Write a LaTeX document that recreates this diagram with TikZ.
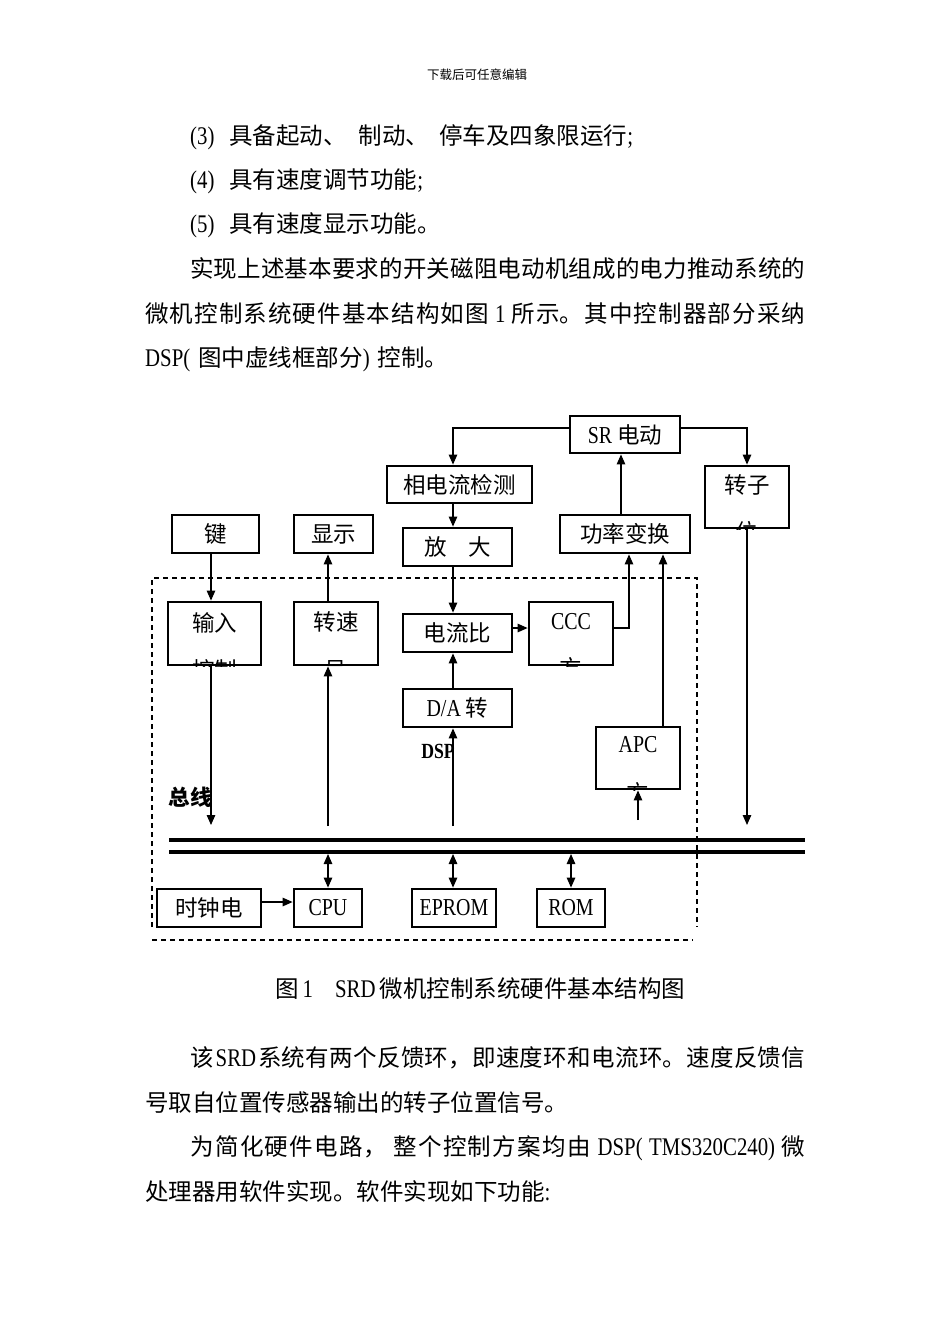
\documentclass[tikz,border=0pt]{standalone}
\usepackage{fontspec}
\setmainfont{Noto Sans CJK SC}
\newfontfamily\latfont[FakeStretch=0.82,Scale=1.08]{Liberation Serif}
\newcommand\lat[1]{{\latfont #1}}
\usetikzlibrary{arrows.meta}
\XeTeXlinebreaklocale "zh"
\XeTeXlinebreakskip=0pt plus 3pt minus 0.5pt
\newcommand\jline[2]{\parbox{#1}{\parfillskip=0pt\noindent #2}}
\begin{document}
\begin{tikzpicture}[x=1pt,y=-1pt,
  box/.style={draw, line width=2.8pt, inner sep=0pt, font=\fontsize{22.5}{26}\selectfont},
  lbl/.style={inner sep=0pt, font=\fontsize{22.5}{26}\selectfont},
  body/.style={inner sep=0pt, font=\fontsize{23.5}{27}\selectfont},
  conn/.style={line width=1.2pt, -{Triangle[length=10pt,width=8.5pt]}},
  biconn/.style={line width=1.2pt, {Triangle[length=10pt,width=8.5pt]}-{Triangle[length=10pt,width=8.5pt]}},
  dsh/.style={line width=1.2pt, dash pattern=on 5pt off 4pt},
  busline/.style={line width=4pt}]
\useasboundingbox[fill=white] (0,0) rectangle (950,1344);

% ---------- page text ----------
\node[inner sep=0pt, font=\fontsize{12.5}{14}\selectfont] (hdr) at (477,75) {下载后可任意编辑};
\node[body, anchor=west] (t1) at (190,137) {\lat{(3)}\hspace{15pt}具备起动、\hspace{12pt}制动、\hspace{10pt}停车及四象限运行\lat{;}};
\node[body, anchor=west] (t2) at (190,181) {\lat{(4)}\hspace{15pt}具有速度调节功能\lat{;}};
\node[body, anchor=west] (t3) at (190,225) {\lat{(5)}\hspace{15pt}具有速度显示功能。};
\node[body, anchor=west] (t4) at (190,269) {\jline{615pt}{实现上述基本要求的开关磁阻电动机组成的电力推动系统的}};
\node[body, anchor=west] (t5) at (145,314) {\jline{660pt}{微机控制系统硬件基本结构如图 \lat{1} 所示。其中控制器部分采纳}};
\node[body, anchor=west] (t6) at (145,359) {\lat{DSP(}\hspace{8pt}图中虚线框部分\lat{)}\hspace{8pt}控制。};
\node[body, anchor=west] (cap) at (275,989) {图\hspace{4pt}\lat{1}\hspace{22pt}\lat{SRD}\hspace{4pt}微机控制系统硬件基本结构图};
\node[body, anchor=west] (t7) at (190,1058) {\jline{615pt}{该\hspace{2pt}\lat{SRD}\hspace{2pt}系统有两个反馈环，即速度环和电流环。速度反馈信}};
\node[body, anchor=west] (t8) at (145,1103) {号取自位置传感器输出的转子位置信号。};
\node[body, anchor=west] (t9) at (190,1148) {\jline{615pt}{为简化硬件电路， 整个控制方案均由 \lat{DSP( TMS320C240)} 微}};
\node[body, anchor=west] (t10) at (145,1192) {处理器用软件实现。软件实现如下功能\lat{:}};

% ---------- single-line boxes ----------
\node[box, minimum width=110pt, minimum height=37pt] (sr) at (625,434.5) {\lat{SR} 电动};
\node[box, minimum width=145pt, minimum height=37pt] (pd) at (459.5,484.5) {相电流检测};
\node[box, minimum width=87pt, minimum height=38pt] (key) at (215.5,534) {键};
\node[box, minimum width=79pt, minimum height=38pt] (disp) at (333.5,534) {显示};
\node[box, minimum width=109pt, minimum height=38pt] (amp) at (457.5,547) {放\hspace{22pt}大};
\node[box, minimum width=130pt, minimum height=38pt] (pw) at (625,534) {功率变换};
\node[box, minimum width=109pt, minimum height=38pt] (cmp) at (457.5,633) {电流比};
\node[box, minimum width=109pt, minimum height=38pt] (da) at (457.5,708) {\lat{D/A} 转};
\node[box, minimum width=104pt, minimum height=38pt] (clk) at (209,908) {时钟电};
\node[box, minimum width=68pt, minimum height=38pt] (cpu) at (328,908) {\lat{CPU}};
\node[box, minimum width=84pt, minimum height=38pt] (eprom) at (454,908) {\lat{EPROM}};
\node[box, minimum width=68pt, minimum height=38pt] (rom) at (571,908) {\lat{ROM}};

% ---------- two-line boxes (second line cut off) ----------
\node[box, minimum width=84pt, minimum height=62pt] (rot) at (747,497) {};
\begin{scope}\clip (rot.north west) rectangle (rot.south east);
\node[lbl] (rot1) at (747,485) {转子};
\node[lbl] (rot2) at (747,532) {位};
\end{scope}
\node[box, minimum width=93pt, minimum height=63pt] (inp) at (214.5,633.5) {};
\begin{scope}\clip (inp.north west) rectangle (inp.south east);
\node[lbl] (inp1) at (214.5,623) {输入};
\node[lbl] (inp2) at (214.5,670) {控制};
\end{scope}
\node[box, minimum width=84pt, minimum height=63pt] (spd) at (336,633.5) {};
\begin{scope}\clip (spd.north west) rectangle (spd.south east);
\node[lbl] (spd1) at (336,622) {转速};
\node[lbl] (spd2) at (336,670) {号};
\end{scope}
\node[box, minimum width=84pt, minimum height=63pt] (ccc) at (571,633.5) {};
\begin{scope}\clip (ccc.north west) rectangle (ccc.south east);
\node[lbl] (ccc1) at (571,622) {\lat{CCC}};
\node[lbl] (ccc2) at (571,668) {方};
\end{scope}
\node[box, minimum width=84pt, minimum height=62pt] (apc) at (638,758) {};
\begin{scope}\clip (apc.north west) rectangle (apc.south east);
\node[lbl] (apc1) at (638,745) {\lat{APC}};
\node[lbl] (apc2) at (638,793) {方};
\end{scope}

% ---------- labels ----------
\node[inner sep=0pt, font=\fontsize{20}{24}\selectfont\latfont\bfseries] (dsp) at (438,751) {DSP};
\node[inner sep=0pt, font=\fontsize{21.5}{24}\selectfont\bfseries] (zx) at (190,797) {总线};

% ---------- lane coordinates ----------
\coordinate (xk) at (211,0);
\coordinate (xs) at (328,0);
\coordinate (xm) at (453,0);
\coordinate (xp) at (621,0);
\coordinate (xc) at (629,0);
\coordinate (xa) at (663,0);
\coordinate (xq) at (638,0);
\coordinate (xr) at (747,0);
\coordinate (xe) at (571,0);
\coordinate (ytop) at (0,428);
\coordinate (yc) at (0,628);
\coordinate (yclk) at (0,902);
\coordinate (yin) at (0,825);
\coordinate (yout) at (0,826);
\coordinate (yapc) at (0,820);
\coordinate (ybus) at (0,854);

% ---------- bus ----------
\coordinate (b1l) at (169,840); \coordinate (b1r) at (805,840);
\coordinate (b2l) at (169,852); \coordinate (b2r) at (805,852);
\draw[busline] (b1l) -- (b1r);
\draw[busline] (b2l) -- (b2r);

% ---------- dashed DSP frame ----------
\coordinate (dtl) at (152,578); \coordinate (dtr) at (697,578);
\coordinate (dbl) at (152,927); \coordinate (dbr) at (697,927);
\coordinate (dl) at (152,940); \coordinate (dr) at (693,940);
\draw[dsh] (dbl) -- (dtl) -- (dtr) -- (dbr);
\draw[dsh] (dl) -- (dr);

% ---------- connectors ----------
\draw[conn] (sr.west |- ytop) -| (pd.north -| xm);
\draw[conn] (sr.east |- ytop) -| (rot.north);
\draw[conn] (pw.north -| xp) -- (sr.south -| xp);
\draw[conn] (pd.south -| xm) -- (amp.north -| xm);
\draw[conn] (amp.south -| xm) -- (cmp.north -| xm);
\draw[conn] (da.north -| xm) -- (cmp.south -| xm);
\draw[conn] (cmp.east |- yc) -- (ccc.west |- yc);
\draw[conn] (ccc.east |- yc) -| (pw.south -| xc);
\draw[conn] (apc.north -| xa) -- (pw.south -| xa);
\draw[conn] (key.south -| xk) -- (inp.north -| xk);
\draw[conn] (inp.south -| xk) -- (xk |- yin);
\draw[conn] (spd.north -| xs) -- (disp.south -| xs);
\draw[conn] (xs |- yout) -- (spd.south -| xs);
\draw[conn] (xm |- yout) -- (da.south -| xm);
\draw[conn] (xq |- yapc) -- (apc.south -| xq);
\draw[conn] (rot.south) -- (xr |- yin);
\draw[biconn] (xs |- ybus) -- (cpu.north -| xs);
\draw[biconn] (xm |- ybus) -- (eprom.north -| xm);
\draw[biconn] (xe |- ybus) -- (rom.north -| xe);
\draw[conn] (clk.east |- yclk) -- (cpu.west |- yclk);
\end{tikzpicture}
\end{document}
